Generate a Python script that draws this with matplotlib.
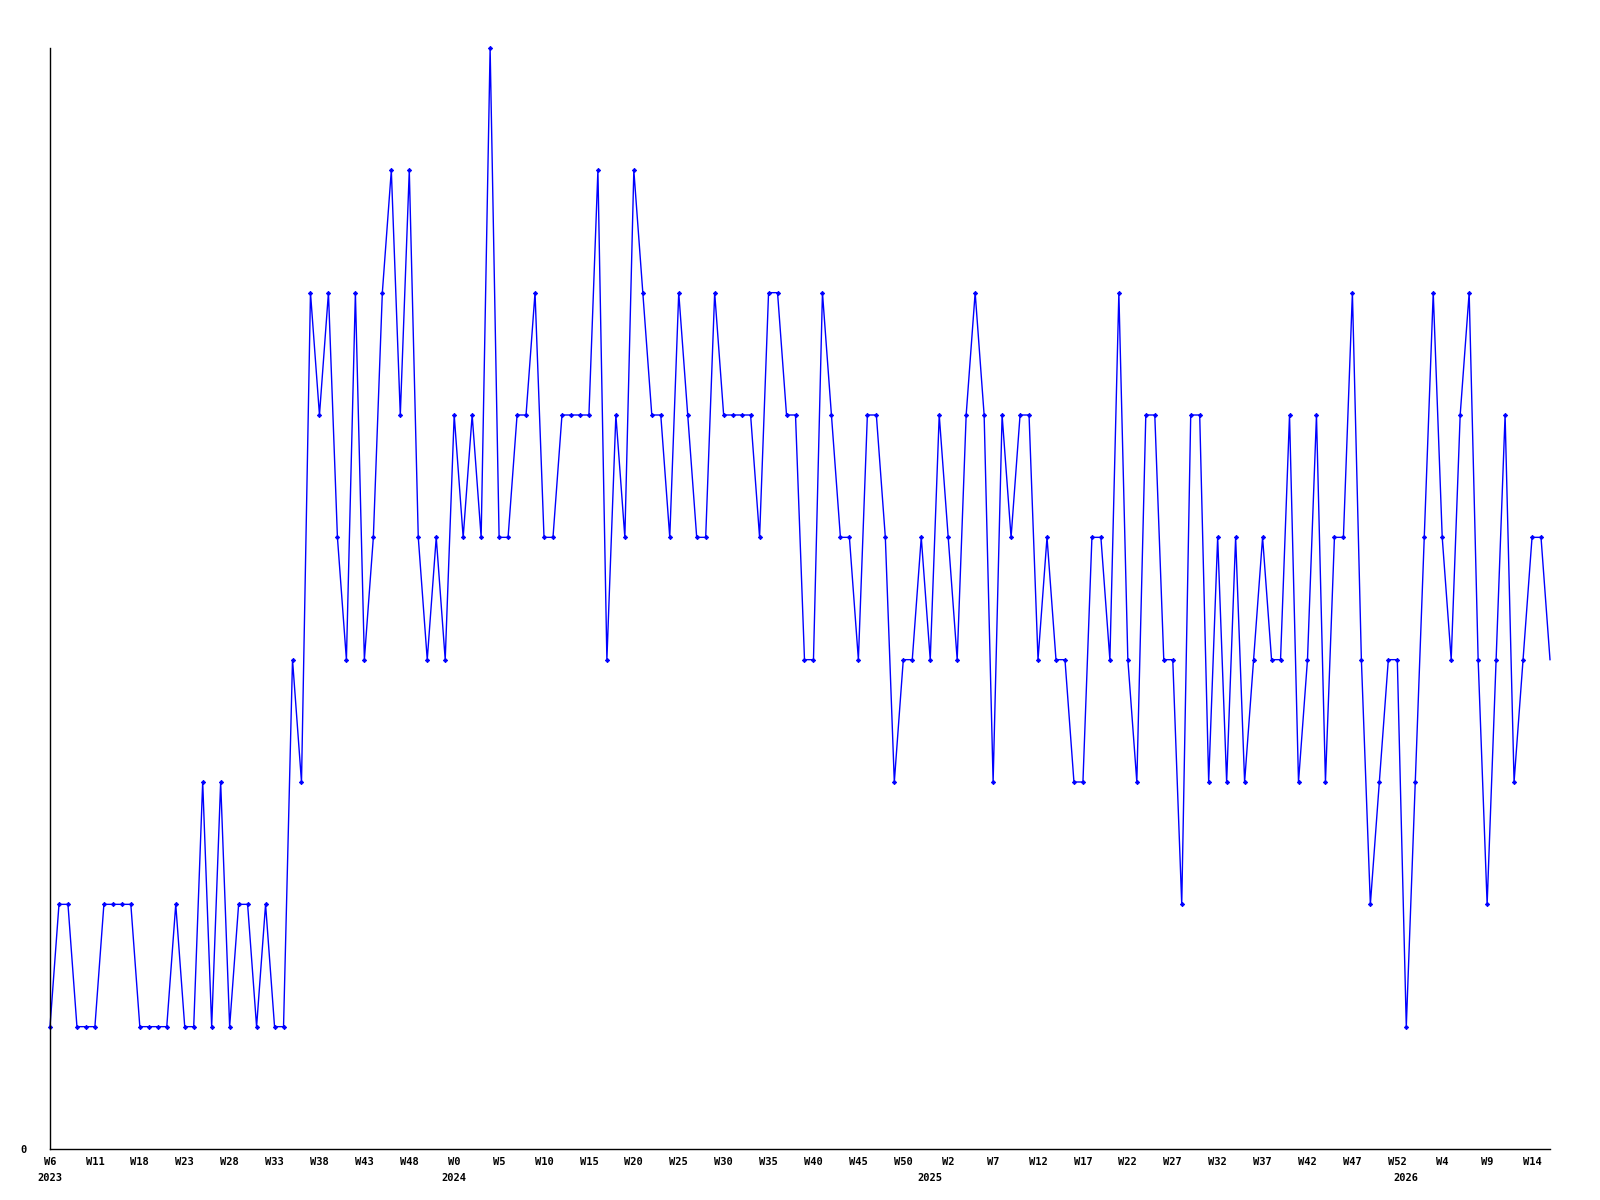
import matplotlib
matplotlib.use('Agg')
import matplotlib.pyplot as plt

# weekly counts, one value per week starting at W6 2023
values = [1, 2, 2, 1, 1, 1, 2, 2, 2, 2,
          1, 1, 1, 1, 2, 1, 1, 3, 1, 3,
          1, 2, 2, 1, 2, 1, 1, 4, 3, 7,
          6, 7, 5, 4, 7, 4, 5, 7, 8, 6,
          8, 5, 4, 5, 4, 6, 5, 6, 5, 9,
          5, 5, 6, 6, 7, 5, 5, 6, 6, 6,
          6, 8, 4, 6, 5, 8, 7, 6, 6, 5,
          7, 6, 5, 5, 7, 6, 6, 6, 6, 5,
          7, 7, 6, 6, 4, 4, 7, 6, 5, 5,
          4, 6, 6, 5, 3, 4, 4, 5, 4, 6,
          5, 4, 6, 7, 6, 3, 6, 5, 6, 6,
          4, 5, 4, 4, 3, 3, 5, 5, 4, 7,
          4, 3, 6, 6, 4, 4, 2, 6, 6, 3,
          5, 3, 5, 3, 4, 5, 4, 4, 6, 3,
          4, 6, 3, 5, 5, 7, 4, 2, 3, 4,
          4, 1, 3, 5, 7, 5, 4, 6, 7, 4,
          2, 4, 6, 3, 4, 5, 5, 4]

# labels shown every 5th week
week_labels = ['W6', 'W11', 'W18', 'W23', 'W28', 'W33', 'W38', 'W43', 'W48',
               'W0', 'W5', 'W10', 'W15', 'W20', 'W25', 'W30', 'W35', 'W40', 'W45', 'W50',
               'W2', 'W7', 'W12', 'W17', 'W22', 'W27', 'W32', 'W37', 'W42', 'W47', 'W52',
               'W4', 'W9', 'W14']
year_labels = ['2023', '2024', '2025', '2026']
year_starts = [0, 45, 98, 151]

weeks = list(range(len(values)))
label_pos = list(range(0, 5 * len(week_labels), 5))

fig = plt.figure(figsize=(16, 12), dpi=100, facecolor='white')
ax = fig.add_axes([0.03125, 0.0425, 0.9375, 0.9175])

# line plus small diamond markers (last week has no marker)
ax.plot(weeks, values, color='#0000ff', linewidth=1.0, clip_on=False)
ax.plot(weeks[:-1], values[:-1], linestyle='none', color='#0000ff',
        marker='D', markersize=2.2, markeredgewidth=0.6, clip_on=False)

ax.set_xlim(0, len(values) - 1)
ax.set_ylim(0, 9)

for side in ['top', 'right']:
    ax.spines[side].set_visible(False)
for side in ['left', 'bottom']:
    ax.spines[side].set_color('black')
    ax.spines[side].set_linewidth(1.0)

tick_font = dict(family='DejaVu Sans Mono', weight='bold', size=7.5)

ax.set_xticks(label_pos)
ax.set_xticklabels(week_labels, fontdict=tick_font)
ax.set_yticks([0])
ax.set_yticklabels(['0'], fontdict=tick_font)
ax.tick_params(axis='x', length=0, pad=6)
ax.tick_params(axis='y', length=0, pad=17)

# year markers under the week labels
for pos, yr in zip(year_starts, year_labels):
    ax.annotate(yr, xy=(pos, 0), xycoords=('data', 'axes fraction'),
                xytext=(0, -17), textcoords='offset points',
                ha='center', va='top', **tick_font)

fig.savefig('out.png', dpi=100, facecolor='white')
